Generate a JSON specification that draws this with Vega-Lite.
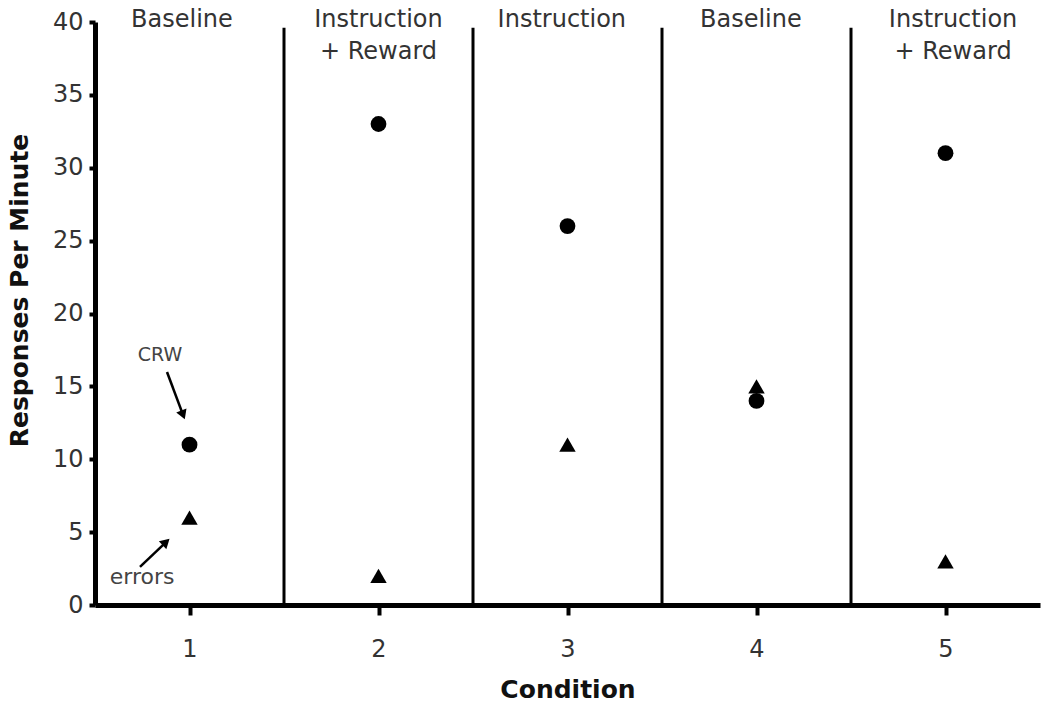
{
  "$schema": "https://vega.github.io/schema/vega-lite/v6.json",
  "width": 945,
  "height": 583,
  "autosize": {"type": "none"},
  "padding": {"left": 95, "top": 22, "right": 5, "bottom": 103},
  "background": "white",
  "config": {"view": {"stroke": null}, "font": "DejaVu Sans"},
  "datasets": {
    "points": [
      {"condition": 1, "measure": "CRW", "value": 11},
      {"condition": 2, "measure": "CRW", "value": 33},
      {"condition": 3, "measure": "CRW", "value": 26},
      {"condition": 4, "measure": "CRW", "value": 14},
      {"condition": 5, "measure": "CRW", "value": 31},
      {"condition": 1, "measure": "errors", "value": 6},
      {"condition": 2, "measure": "errors", "value": 2},
      {"condition": 3, "measure": "errors", "value": 11},
      {"condition": 4, "measure": "errors", "value": 15},
      {"condition": 5, "measure": "errors", "value": 3}
    ],
    "phaselines": [
      {"x": 1.5, "y": 0, "y2": 39.6},
      {"x": 2.5, "y": 0, "y2": 39.6},
      {"x": 3.5, "y": 0, "y2": 39.6},
      {"x": 4.5, "y": 0, "y2": 39.6}
    ],
    "phases": [
      {"x": 0.96, "label": "Baseline"},
      {"x": 2.0, "label": "Instruction\n+ Reward"},
      {"x": 2.97, "label": "Instruction"},
      {"x": 3.97, "label": "Baseline"},
      {"x": 5.04, "label": "Instruction\n+ Reward"}
    ],
    "notes": [
      {"x": 0.844, "y": 17.15, "label": "CRW", "size": 19},
      {"x": 0.749, "y": 1.92, "label": "errors", "size": 22}
    ],
    "arrows": [
      {"x": 0.881, "y": 15.99, "x2": 0.966, "y2": 13.04, "angle": 159},
      {"x": 0.738, "y": 2.61, "x2": 0.876, "y2": 4.32, "angle": 47}
    ]
  },
  "layer": [
    {
      "data": {"name": "phaselines"},
      "mark": {"type": "rule", "strokeWidth": 3, "color": "black"},
      "encoding": {
        "x": {"field": "x", "type": "quantitative", "scale": {"domain": [0.5, 5.5]},
          "axis": {
            "values": [1, 2, 3, 4, 5], "format": "d", "title": "Condition",
            "domainColor": "black", "domainWidth": 5,
            "tickColor": "black", "tickWidth": 4, "tickSize": 10,
            "labelFontSize": 24, "labelColor": "#333", "labelPadding": 22,
            "titleFontSize": 25, "titleFontWeight": "bold", "titleColor": "#111", "titlePadding": 16,
            "grid": false
          }},
        "y": {"field": "y", "type": "quantitative", "scale": {"domain": [0, 40]},
          "axis": {
            "values": [0, 5, 10, 15, 20, 25, 30, 35, 40], "format": "d", "title": "Responses Per Minute",
            "domainColor": "black", "domainWidth": 5,
            "tickColor": "black", "tickWidth": 4, "tickSize": 6,
            "labelFontSize": 24, "labelColor": "#333", "labelPadding": 6,
            "titleFontSize": 25, "titleFontWeight": "bold", "titleColor": "#111",
            "titleX": -63, "titleY": 268,
            "grid": false
          }},
        "y2": {"field": "y2"}
      }
    },
    {
      "data": {"name": "points"},
      "mark": {"type": "point", "filled": true, "opacity": 1, "color": "black"},
      "encoding": {
        "x": {"field": "condition", "type": "quantitative"},
        "y": {"field": "value", "type": "quantitative"},
        "shape": {"field": "measure", "type": "nominal",
          "scale": {"domain": ["CRW", "errors"], "range": ["circle", "triangle-up"]}, "legend": null},
        "size": {"field": "measure", "type": "nominal",
          "scale": {"domain": ["CRW", "errors"], "range": [250, 270]}, "legend": null}
      }
    },
    {
      "data": {"name": "phases"},
      "mark": {"type": "text", "fontSize": 24, "color": "#333", "baseline": "middle", "lineBreak": "\n", "lineHeight": 32, "dy": -2, "clip": false},
      "encoding": {
        "x": {"field": "x", "type": "quantitative"},
        "y": {"datum": 40},
        "text": {"field": "label"}
      }
    },
    {
      "data": {"name": "notes"},
      "mark": {"type": "text", "color": "#444", "baseline": "middle"},
      "encoding": {
        "x": {"field": "x", "type": "quantitative"},
        "y": {"field": "y", "type": "quantitative"},
        "text": {"field": "label"},
        "size": {"field": "size", "type": "quantitative", "scale": null}
      }
    },
    {
      "data": {"name": "arrows"},
      "mark": {"type": "rule", "strokeWidth": 2.5, "color": "black"},
      "encoding": {
        "x": {"field": "x", "type": "quantitative"},
        "y": {"field": "y", "type": "quantitative"},
        "x2": {"field": "x2"},
        "y2": {"field": "y2"}
      }
    },
    {
      "data": {"name": "arrows"},
      "mark": {"type": "point", "shape": "triangle-up", "filled": true, "opacity": 1, "color": "black", "size": 120},
      "encoding": {
        "x": {"field": "x2", "type": "quantitative"},
        "y": {"field": "y2", "type": "quantitative"},
        "angle": {"field": "angle", "type": "quantitative", "scale": null}
      }
    }
  ]
}
